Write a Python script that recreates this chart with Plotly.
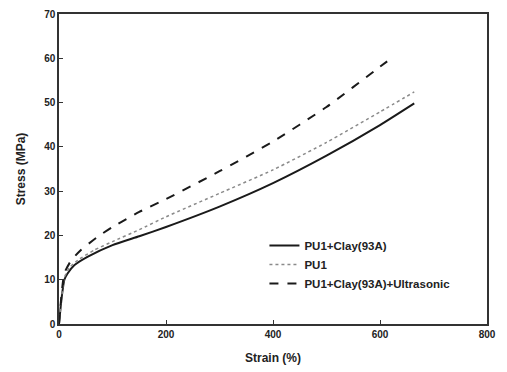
import plotly.graph_objects as go

# Data
strain_clay = [0, 5, 10, 16, 29, 54, 100, 150, 200, 300, 400, 500, 600, 664]
stress_clay = [0, 6, 10, 11.4, 13.3, 15.2, 17.8, 19.8, 21.9, 26.5, 31.8, 38, 44.9, 49.8]

strain_pu1 = [0, 5, 10, 20, 35, 66, 100, 150, 200, 300, 400, 500, 600, 664]
stress_pu1 = [0, 6, 10.5, 12.8, 14.4, 16.7, 18.6, 21.3, 24.2, 29.5, 34.8, 41, 47.9, 52.4]

strain_us = [0, 5, 10, 23, 41, 70, 100, 150, 200, 300, 400, 500, 600, 621]
stress_us = [0, 7, 11.5, 14.4, 16.7, 19.5, 21.9, 25.3, 28.2, 34.5, 41.2, 49, 58.1, 60]

names = ["PU1+Clay(93A)", "PU1", "PU1+Clay(93A)+Ultrasonic"]
x_ticks = [0, 200, 400, 600, 800]
y_ticks = [0, 10, 20, 30, 40, 50, 60, 70]

FONT = "Liberation Sans, Arial, sans-serif"

fig = go.Figure()
fig.add_trace(go.Scatter(x=strain_clay, y=stress_clay, mode="lines", name=names[0],
                         line=dict(color="#1a1a1a", width=2, shape="spline", smoothing=0.5)))
fig.add_trace(go.Scatter(x=strain_pu1, y=stress_pu1, mode="lines", name=names[1],
                         line=dict(color="#8a8a8a", width=1.5, dash="dot", shape="spline", smoothing=0.5)))
fig.add_trace(go.Scatter(x=strain_us, y=stress_us, mode="lines", name=names[2],
                         line=dict(color="#1a1a1a", width=2, dash="dash", shape="spline", smoothing=0.5)))

axis_common = dict(
    showgrid=False, zeroline=False, showline=True, mirror=True,
    linecolor="#333333", linewidth=1.5,
    ticks="inside", ticklen=4, tickcolor="#333333",
    tickfont=dict(family=FONT, size=10, color="#222222", weight="bold"),
    automargin=False,
)

fig.update_layout(
    width=499, height=364,
    margin=dict(l=51, r=20, t=6, b=48),
    paper_bgcolor="white", plot_bgcolor="white",
    showlegend=True,
    legend=dict(
        x=0.48, y=0.3, xanchor="left", yanchor="top",
        bgcolor="rgba(0,0,0,0)", borderwidth=0,
        font=dict(family=FONT, size=11.5, color="#222222", weight="bold"),
        tracegroupgap=0, itemwidth=30,
    ),
    xaxis=dict(range=[0, 800], tickvals=x_ticks, ticktext=[str(v) for v in x_ticks],
               title=dict(text="Strain (%)", font=dict(family=FONT, size=12, color="#222222", weight="bold"),
                          standoff=15),
               **axis_common),
    yaxis=dict(range=[0, 70], tickvals=y_ticks, ticktext=[str(v) for v in y_ticks],
               title=dict(text="Stress (MPa)", font=dict(family=FONT, size=12, color="#222222", weight="bold"),
                          standoff=16),
               **axis_common),
)

fig.write_html("out.html")
